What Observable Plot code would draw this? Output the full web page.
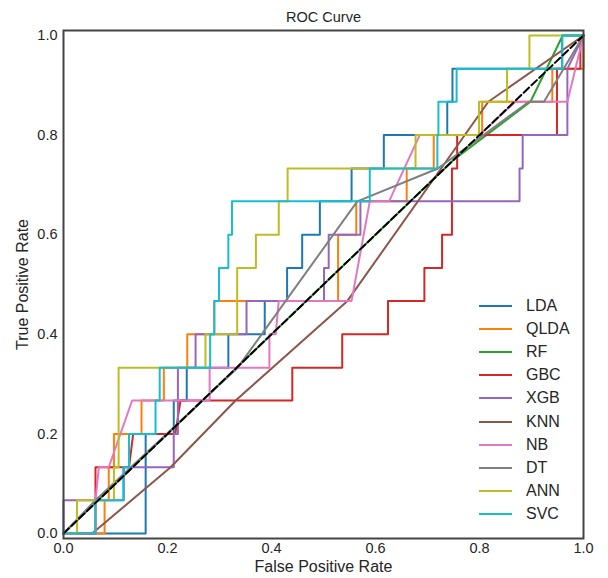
<!DOCTYPE html>
<html><head><meta charset="utf-8">
<script src="https://cdn.jsdelivr.net/npm/d3@7"></script>
<script src="https://cdn.jsdelivr.net/npm/@observablehq/plot@0.6"></script>
<style>
body{margin:0;background:#fff;}
#wrap{position:relative;width:608px;height:578px;font-family:"Liberation Sans",Arial,sans-serif;}
#legend{position:absolute;left:479px;top:294px;}
.item{display:flex;align-items:center;height:23.2px;}
.sw{width:33px;height:2px;margin-right:14px;}
.lab{font-size:16px;color:#262626;line-height:1;}
</style></head><body><div id="wrap"></div>
<script>
// ---- data (FPR, TPR) ----
const models = ["LDA","QLDA","RF","GBC","XGB","KNN","NB","DT","ANN","SVC"];
const colors = ["#1f77b4","#ff7f0e","#2ca02c","#d62728","#9467bd","#8c564b","#e377c2","#7f7f7f","#bcbd22","#17becf"];
const xTicks = [0,0.2,0.4,0.6,0.8,1.0];
const yTicks = [0,0.2,0.4,0.6,0.8,1.0];
const chance = [[0,0],[1,1]];

const LDA = [[0,0],[0.158,0],[0.158,0.2],[0.212,0.2],[0.212,0.267],[0.237,0.267],[0.237,0.333],[0.317,0.333],[0.317,0.4],[0.387,0.4],[0.387,0.467],[0.430,0.467],[0.430,0.533],[0.459,0.533],[0.459,0.6],[0.493,0.6],[0.493,0.667],[0.554,0.667],[0.554,0.733],[0.616,0.733],[0.616,0.8],[0.738,0.8],[0.738,0.867],[0.748,0.867],[0.748,0.933],[0.959,0.933],[0.959,1],[1,1]];
const QLDA = [[0,0],[0.079,0],[0.079,0.067],[0.087,0.067],[0.087,0.133],[0.097,0.133],[0.097,0.2],[0.150,0.2],[0.150,0.267],[0.193,0.267],[0.193,0.333],[0.238,0.333],[0.238,0.4],[0.290,0.4],[0.290,0.467],[0.528,0.467],[0.528,0.6],[0.563,0.6],[0.563,0.667],[0.660,0.667],[0.660,0.733],[0.712,0.733],[0.712,0.8],[0.805,0.8],[0.805,0.867],[0.940,0.867],[0.940,0.933],[1,0.933],[1,1]];
const RF = [[0,0],[0.75,0.75],[0.898,0.867],[0.96,1],[1,1]];
const GBC = [[0,0],[0.0615,0],[0.0615,0.133],[0.126,0.133],[0.134,0.2],[0.215,0.2],[0.225,0.267],[0.440,0.267],[0.440,0.333],[0.536,0.333],[0.536,0.4],[0.624,0.4],[0.624,0.467],[0.694,0.467],[0.694,0.533],[0.728,0.533],[0.728,0.6],[0.747,0.6],[0.747,0.733],[0.757,0.733],[0.757,0.8],[0.949,0.8],[0.949,0.933],[0.994,0.933],[0.994,1],[1,1]];
const XGB = [[0,0],[0,0.067],[0.116,0.067],[0.116,0.133],[0.212,0.133],[0.212,0.2],[0.220,0.2],[0.220,0.333],[0.254,0.333],[0.254,0.4],[0.352,0.4],[0.352,0.467],[0.501,0.467],[0.501,0.533],[0.510,0.533],[0.510,0.6],[0.571,0.6],[0.571,0.667],[0.877,0.667],[0.877,0.733],[0.883,0.733],[0.883,0.8],[0.969,0.8],[0.969,0.933],[1,1]];
const KNN = [[0,0],[0.055,0],[0.206,0.133],[0.331,0.267],[0.546,0.467],[0.817,0.867],[1,1]];
const NB = [[0,0],[0.0615,0],[0.0615,0.067],[0.068,0.133],[0.087,0.133],[0.132,0.267],[0.281,0.267],[0.281,0.333],[0.396,0.333],[0.396,0.4],[0.408,0.4],[0.414,0.467],[0.554,0.467],[0.589,0.667],[0.626,0.667],[0.685,0.8],[0.80,0.8],[0.869,0.867],[0.969,0.867],[1,1]];
const DT = [[0,0],[0.0615,0.067],[0.335,0.333],[0.565,0.667],[0.72,0.733],[0.895,0.867],[0.924,0.867],[1,1]];
const ANN = [[0,0],[0.026,0],[0.026,0.067],[0.097,0.067],[0.097,0.133],[0.106,0.133],[0.106,0.333],[0.273,0.333],[0.273,0.4],[0.334,0.4],[0.334,0.533],[0.370,0.533],[0.370,0.6],[0.414,0.6],[0.414,0.667],[0.431,0.667],[0.431,0.733],[0.677,0.733],[0.677,0.8],[0.799,0.8],[0.799,0.867],[0.853,0.867],[0.853,0.933],[0.896,0.933],[0.896,1],[1,1]];
const SVC = [[0,0],[0.0615,0],[0.0615,0.067],[0.115,0.067],[0.115,0.133],[0.126,0.133],[0.126,0.2],[0.177,0.2],[0.177,0.267],[0.185,0.267],[0.185,0.333],[0.282,0.333],[0.282,0.4],[0.290,0.4],[0.290,0.467],[0.299,0.467],[0.299,0.533],[0.317,0.533],[0.317,0.6],[0.324,0.6],[0.324,0.667],[0.589,0.667],[0.589,0.733],[0.719,0.733],[0.719,0.8],[0.721,0.8],[0.721,0.867],[0.756,0.867],[0.756,0.933],[0.959,0.933],[0.959,1],[1,1]];

const curves = [LDA,QLDA,RF,GBC,XGB,KNN,NB,DT,ANN,SVC];
const title = "ROC Curve";
const xLabel = "False Positive Rate";
const yLabel = "True Positive Rate";

const font = '"Liberation Sans", Arial, sans-serif';
const lineMarks = curves.map((pts, i) =>
  Plot.line(pts, {x: d => d[0], y: d => d[1], stroke: colors[i], strokeWidth: 2}));

const chart = Plot.plot({
  width: 608, height: 578,
  marginTop: 30, marginBottom: 40, marginLeft: 63, marginRight: 25,
  x: {domain: [0, 1], label: null},
  y: {domain: [-0.01, 1.01], label: null},
  style: {fontFamily: font, fontSize: "15px", color: "#262626", background: "white", overflow: "visible"},
  marks: [
    Plot.axisX({ticks: xTicks, tickFormat: d3.format(".1f"), tickSize: 0, tickPadding: 4, fontSize: 14.5, label: null}),
    Plot.axisY({ticks: yTicks, tickFormat: d3.format(".1f"), tickSize: 0, tickPadding: 6, fontSize: 14.5, label: null}),
    ...lineMarks,
    Plot.line(chance, {x: d => d[0], y: d => d[1], stroke: "black", strokeWidth: 2, strokeDasharray: "7.5,3.3"}),
    Plot.frame({stroke: "#444", strokeWidth: 2}),
    Plot.text([title], {text: d => d, frameAnchor: "top", dy: -19, fontSize: 14.5, fill: "#262626"}),
    Plot.text([xLabel], {text: d => d, frameAnchor: "bottom", textAnchor: "middle", dy: 33, fontSize: 16, fill: "#262626"}),
    Plot.text([yLabel], {text: d => d, frameAnchor: "left", textAnchor: "middle", dx: -41, rotate: -90, fontSize: 16, fill: "#262626"})
  ]
});
const wrap = document.getElementById("wrap");
wrap.appendChild(chart);

const legend = document.createElement("div");
legend.id = "legend";
models.forEach((m, i) => {
  const item = document.createElement("div");
  item.className = "item";
  const sw = document.createElement("div");
  sw.className = "sw";
  sw.style.background = colors[i];
  const lab = document.createElement("span");
  lab.className = "lab";
  lab.textContent = m;
  item.appendChild(sw); item.appendChild(lab);
  legend.appendChild(item);
});
wrap.appendChild(legend);
</script></body></html>
